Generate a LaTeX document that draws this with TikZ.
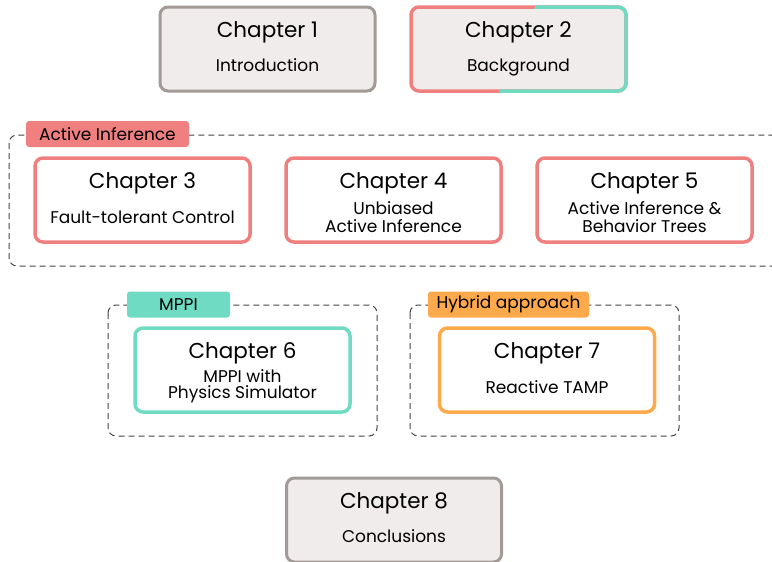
\documentclass[tikz,border=0pt]{standalone}
\usepackage{fontspec}
\setmainfont{Poppins}
\usetikzlibrary{positioning}
\definecolor{aired}{HTML}{F08080}
\definecolor{mppiteal}{HTML}{6FDBC2}
\definecolor{hyborange}{HTML}{FFA94D}
\definecolor{chgray}{HTML}{A39A98}
\definecolor{chfill}{HTML}{F0ECEB}
\definecolor{dashgray}{HTML}{444444}
\tikzset{
  chapter/.style={rectangle, rounded corners=8pt, line width=3.5pt, fill=white,
    minimum width=215pt, minimum height=84pt, inner sep=0pt, outer sep=0pt},
  plain/.style={chapter, draw=chgray, fill=chfill, line width=3pt},
  chtitle/.style={anchor=base, font=\fontsize{21.5}{24}\selectfont},
  chsub/.style={anchor=base, align=center, font=\fontsize{17}{18.5}\selectfont},
  group/.style={draw=dashgray, line width=1pt, dash pattern=on 6pt off 4pt, rounded corners=8pt},
  tag/.style={rectangle, rounded corners=3pt, minimum height=26pt, inner sep=0pt,
    font=\fontsize{17}{19}\selectfont}
}
\begin{document}
\begin{tikzpicture}[x=1pt,y=-1pt,node distance=251pt,on grid]
  \useasboundingbox (0,0) rectangle (772,562);

  % dashed groups
  \draw[group] (9,135) rectangle (785,266);
  \draw[group] (108,305) rectangle (377,436);
  \draw[group] (410,305) rectangle (679,436);

  % group tags
  \node[tag,fill=aired,minimum width=163pt] (aitag) at (107.5,134) {Active Inference};
  \node[tag,fill=mppiteal,minimum width=103pt] (mppitag) at (178.5,304.5) {MPPI};
  \node[tag,fill=hyborange,minimum width=161pt] (hybtag) at (508.5,304.5) {Hybrid approach};

  % chapters
  \node[plain] (ch1) at (267.5,49) {};
  \node[chapter,draw=aired,fill=chfill] (ch2) [right = of ch1] {};
  \begin{scope}
    \clip (538,0) -- (640,0) -- (640,100) -- (496,100) -- cycle;
    \draw[line width=3.5pt,draw=mppiteal,rounded corners=8pt] (ch2.north west) rectangle (ch2.south east);
  \end{scope}
  \node[chapter,draw=aired] (ch3) at (142.5,200) {};
  \node[chapter,draw=aired] (ch4) [right = of ch3] {};
  \node[chapter,draw=aired] (ch5) [right = of ch4] {};
  \node[chapter,draw=mppiteal] (ch6) at (242.5,370) {};
  \node[chapter,draw=hyborange] (ch7) [right = 304.5pt of ch6] {};
  \node[plain] (ch8) at (394,520) {};

  % titles
  \foreach \n in {1,...,8}
    \node[chtitle] (ch\n t) at ([yshift=12pt]ch\n.center) {Chapter \n};

  % subtitles (base = last line)
  \node[chsub] (ch1s) at ([yshift=-22pt]ch1.center) {Introduction};
  \node[chsub] (ch2s) at ([yshift=-22pt]ch2.center) {Background};
  \node[chsub] (ch3s) at ([yshift=-23pt]ch3.center) {Fault-tolerant Control};
  \node[chsub] (ch4s) at ([yshift=-32.5pt]ch4.center) {Unbiased\\Active Inference};
  \node[chsub] (ch5s) at ([yshift=-32.5pt]ch5.center) {Active Inference \&\\Behavior Trees};
  \node[chsub] (ch6s) at ([yshift=-28pt]ch6.center) {MPPI with\\[-2.5pt]Physics Simulator};
  \node[chsub] (ch7s) at ([yshift=-23pt]ch7.center) {Reactive TAMP};
  \node[chsub] (ch8s) at ([yshift=-22pt]ch8.center) {Conclusions};
\end{tikzpicture}
\end{document}
